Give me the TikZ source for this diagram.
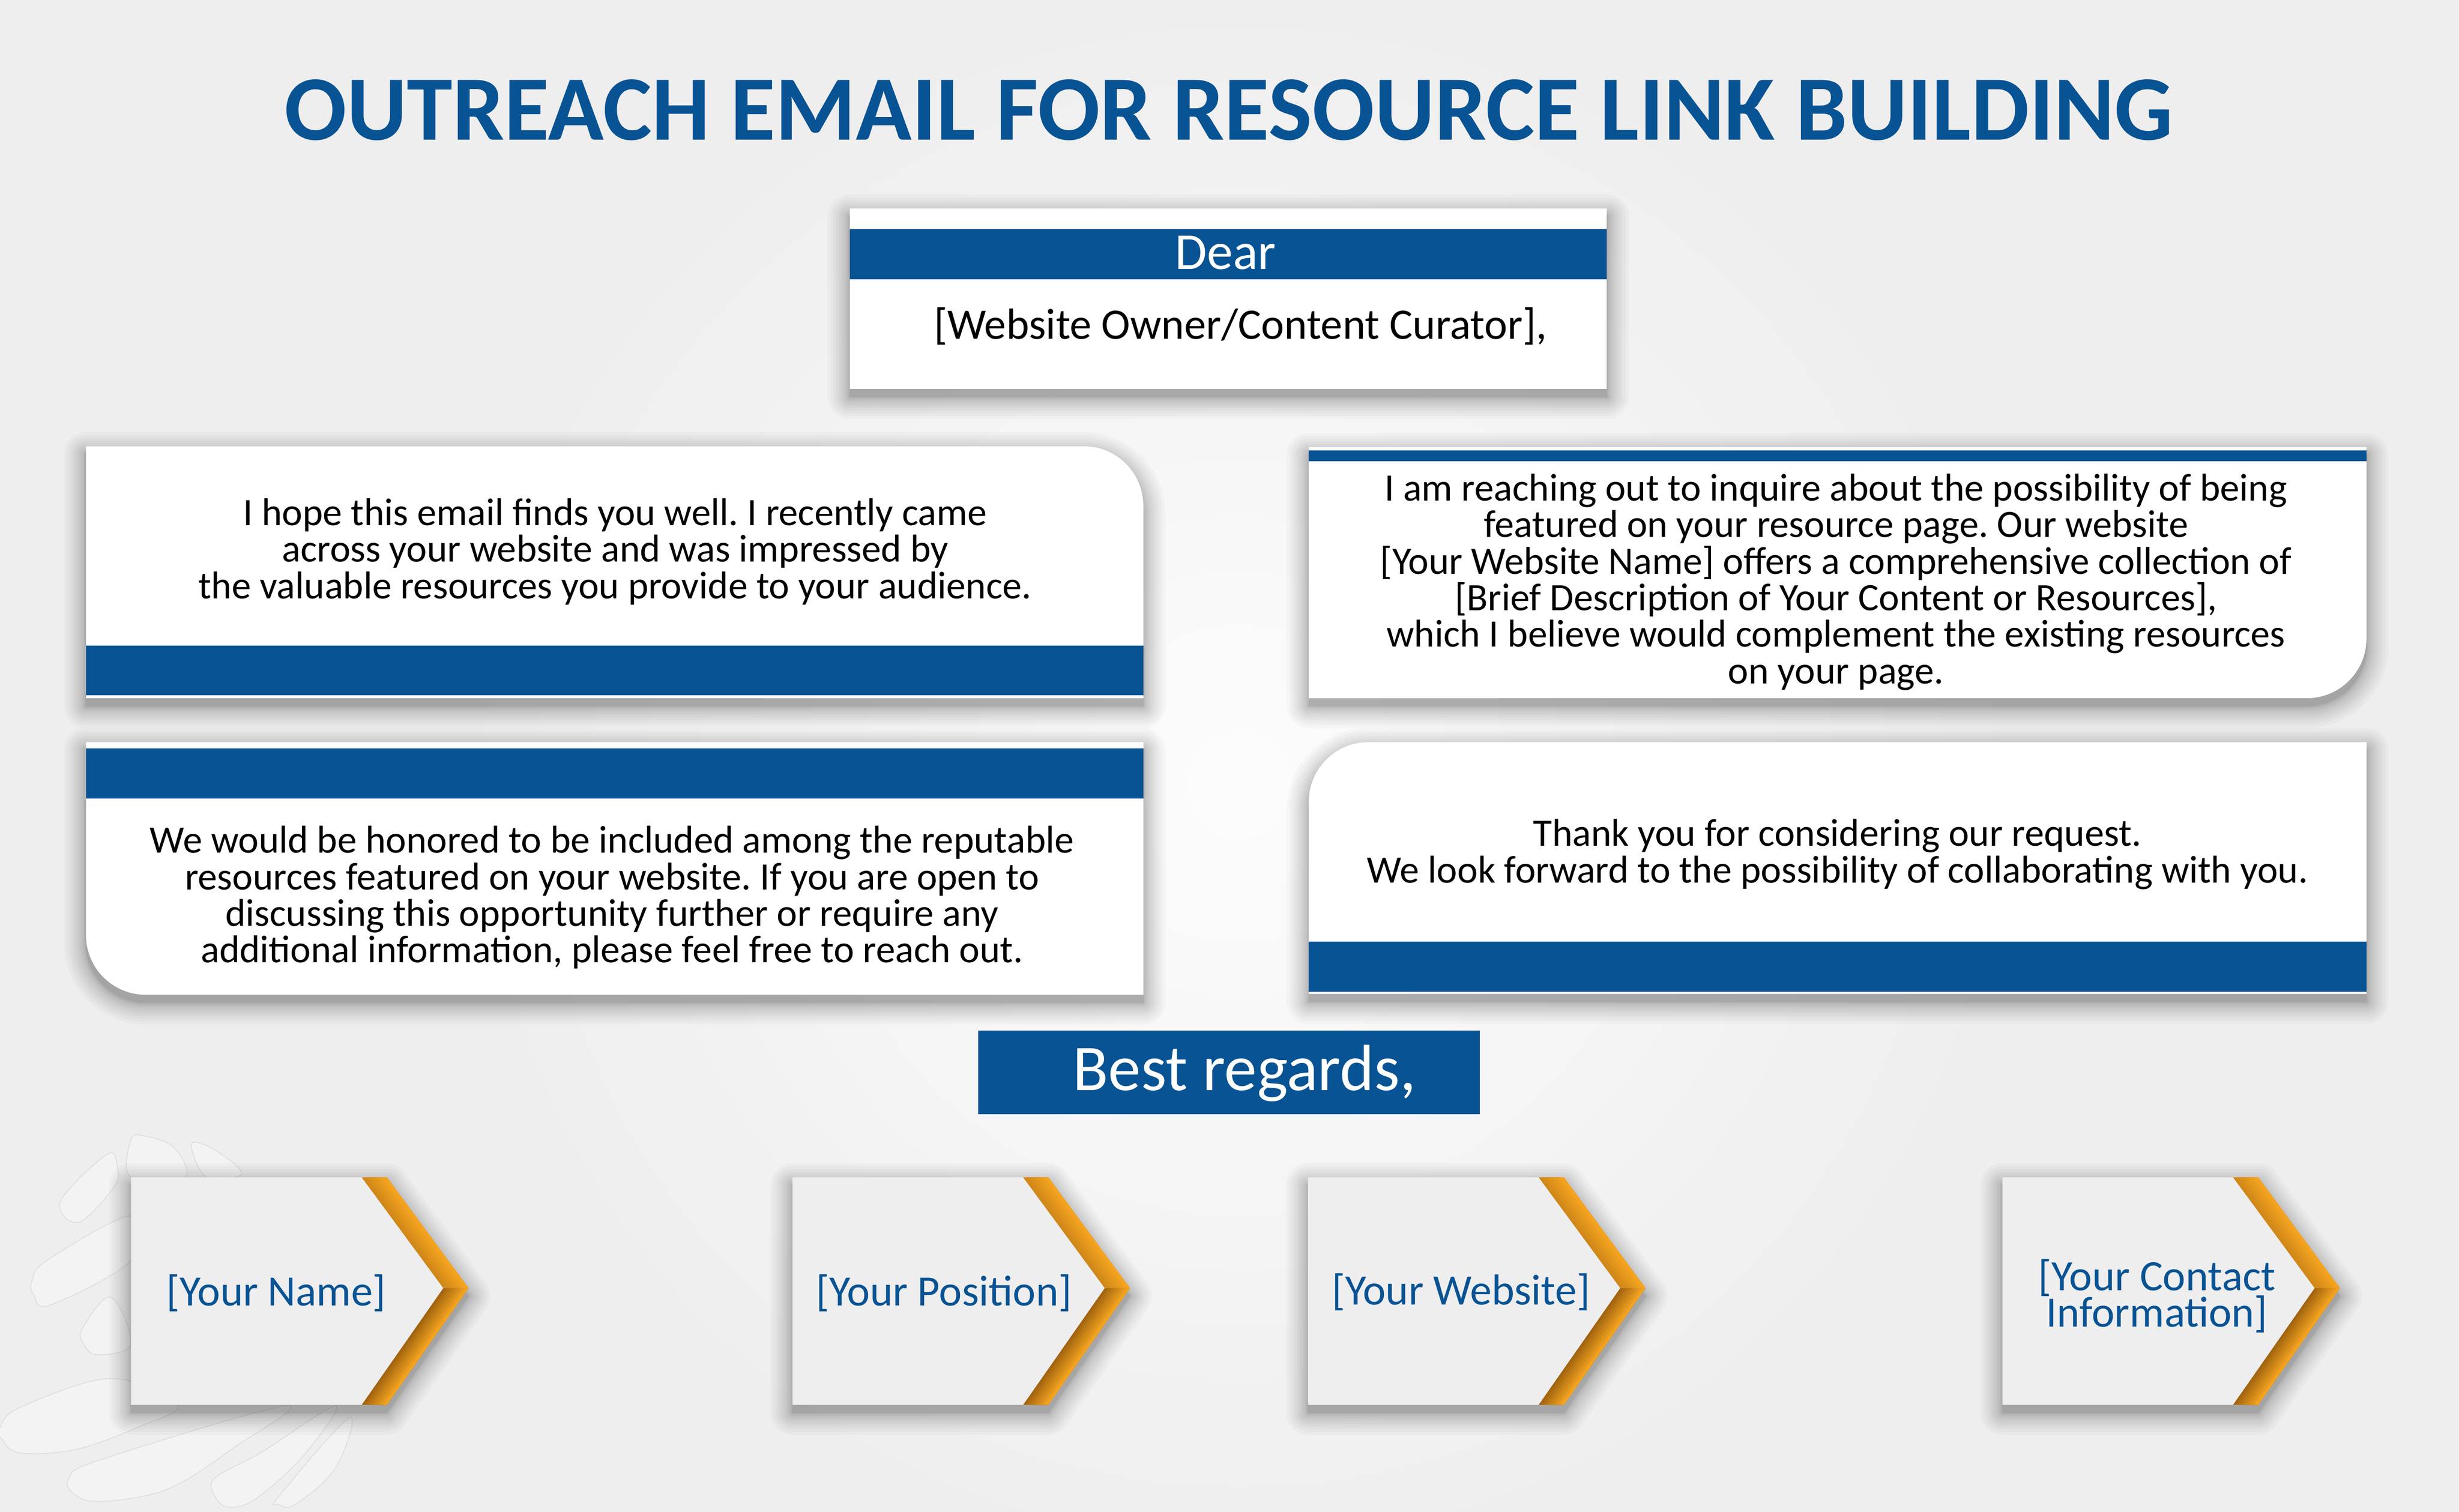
\documentclass[tikz,border=0pt]{standalone}
\usepackage{fontspec}
\setmainfont{Carlito}
\definecolor{pagegray}{HTML}{EFEEEF}
\definecolor{titleblue}{HTML}{085394}
\definecolor{arroworange}{HTML}{F5A41F}
\definecolor{arrowbrown}{HTML}{A3650F}
\definecolor{petalgray}{HTML}{F3F3F4}
\tikzset{
  bluebar/.style={fill=titleblue},
  petal/.style={fill=petalgray, draw=black!13, line width=.15pt},
  cardtext/.style={align=center, text=black, font=\fontsize{7.03}{6.63}\selectfont},
  tagtext/.style={align=center, text=titleblue, font=\fontsize{7.85}{6.63}\selectfont}
}
% Soft shadow under a path: layers that widen and fade
\newcommand{\plotShadow}[1]{
  \foreach \w in {.0014,.0057,.0129,.0229,.0357,.0514,.07,.0914,.1157,.1429,.1729,.2057,.2414,.28} {
    \begin{scope}[transparency group, opacity=.025, yshift=-.05cm]
      \path[draw=black, fill=black, line width=\w cm, line join=round] #1;
    \end{scope}
  }
}
% One arrow tag: name, left edge, text x, text y, label
\newcommand{\plotTag}[5]{
  \begin{scope}[xshift=#2cm]
    \plotShadow{(0,-7.504) -- (1.63,-7.504) -- (2.15,-8.21) -- (1.63,-8.954) -- (0,-8.954) -- cycle}
    \fill[pagegray] (0,-7.504) -- (1.63,-7.504) -- (2.15,-8.21) -- (1.63,-8.954) -- (0,-8.954) -- cycle;
    % the two arms of the chevron, inner edge to outer edge
    \foreach \k in {0,...,7} {
      \pgfmathsetmacro{\mixtop}{int(55+\k*6.5)}
      \pgfmathsetmacro{\mixlow}{int(\k*14)}
      \pgfmathsetmacro{\off}{\k*.02}
      \fill[arroworange!\mixtop!arrowbrown] (1.47+\off,-7.504) -- (1.63,-7.504) -- (2.15,-8.21) -- (1.99+\off,-8.21) -- cycle;
      \fill[arroworange!\mixlow!arrowbrown] (1.99+\off,-8.21) -- (2.15,-8.21) -- (1.63,-8.954) -- (1.47+\off,-8.954) -- cycle;
    }
    \node[tagtext] (#1) at (#3,#4) {#5};
  \end{scope}
}
\begin{document}
\frenchspacing
\lineskiplimit=-5pt
\begin{tikzpicture}
  \useasboundingbox (0,0) rectangle (15.67,-9.636);
  % Draw the background
  \fill[pagegray] (0,0) rectangle (15.67,-9.636);
  \begin{scope}
    \clip (0,0) rectangle (15.67,-9.636);
    \shade[inner color=white!85!pagegray, outer color=pagegray] (7.9,-5) circle [radius=5];
  \end{scope}

  % Draw the petals behind the first tag
  \foreach \petalpts in {
    {(.385,-7.657) (.685,-7.356) (.749,-7.448) (.727,-7.565) (.503,-7.79)},
    {(.203,-8.167) (.3,-8.033) (.83,-7.75) (.835,-8.033) (.32,-8.317) (.214,-8.25)},
    {(.524,-8.468) (.706,-8.267) (.835,-8.568) (.62,-8.635) (.535,-8.568)},
    {(0,-9.1) (.128,-8.97) (.706,-8.786) (1.13,-8.953) (.9,-9.087) (.49,-9.237) (.128,-9.26) (.01,-9.17)},
    {(.44,-9.42) (.64,-9.304) (1.82,-8.96) (1.5,-9.22) (1.07,-9.49) (.64,-9.57) (.47,-9.52)},
    {(1.37,-9.42) (1.67,-9.254) (2.14,-8.96) (1.925,-9.287) (1.626,-9.555) (1.455,-9.605) (1.37,-9.538)},
    {(1.776,-9.538) (2.225,-9.036) (2.14,-9.354) (1.883,-9.588) (1.776,-9.588)},
    {(.834,-7.264) (.92,-7.24) (1.11,-7.314) (1.177,-7.504) (.834,-7.504)},
    {(1.22,-7.29) (1.37,-7.33) (1.54,-7.48) (1.316,-7.504)}} {
    \path[petal] plot[smooth cycle, tension=.6] coordinates {\petalpts};
  }

  % Title
  \node[text=titleblue, font=\fontsize{16.7}{18}\selectfont\bfseries] (title) at (7.83,-.7) {OUTREACH EMAIL FOR RESOURCE LINK BUILDING};

  % Draw the greeting box
  \plotShadow{(5.415,-1.33) rectangle (10.24,-2.48)}
  \path[fill=white] (5.415,-1.33) rectangle (10.24,-2.48);
  \path[bluebar] (5.415,-1.46) rectangle (10.24,-1.78);
  \node[text=white, font=\fontsize{9.4}{10}\selectfont] (dear) at (7.81,-1.61) {Dear};
  \node[cardtext, font=\fontsize{7.9}{10}\selectfont] (owner) at (7.905,-2.08) {[Website Owner/Content Curator],};

  % Draw the four cards, each with one round corner
  \foreach \cardpath in {
    {(.548,-2.844) -- (6.906,-2.844) arc[start angle=90, end angle=0, radius=.38] -- (7.286,-4.45) -- (.548,-4.45) -- cycle},
    {(8.34,-2.85) -- (15.08,-2.85) -- (15.08,-4.07) arc[start angle=0, end angle=-90, radius=.38] -- (8.34,-4.45) -- cycle},
    {(.548,-4.73) -- (7.286,-4.73) -- (7.286,-6.34) -- (.928,-6.34) arc[start angle=270, end angle=180, radius=.38] -- cycle},
    {(8.72,-4.73) -- (15.08,-4.73) -- (15.08,-6.335) -- (8.34,-6.335) -- (8.34,-5.11) arc[start angle=180, end angle=90, radius=.38] -- cycle}} {
    \plotShadow{\cardpath}
  }
  \foreach \cardpath in {
    {(.548,-2.844) -- (6.906,-2.844) arc[start angle=90, end angle=0, radius=.38] -- (7.286,-4.45) -- (.548,-4.45) -- cycle},
    {(8.34,-2.85) -- (15.08,-2.85) -- (15.08,-4.07) arc[start angle=0, end angle=-90, radius=.38] -- (8.34,-4.45) -- cycle},
    {(.548,-4.73) -- (7.286,-4.73) -- (7.286,-6.34) -- (.928,-6.34) arc[start angle=270, end angle=180, radius=.38] -- cycle},
    {(8.72,-4.73) -- (15.08,-4.73) -- (15.08,-6.335) -- (8.34,-6.335) -- (8.34,-5.11) arc[start angle=180, end angle=90, radius=.38] -- cycle}} {
    \path[fill=white] \cardpath;
  }
  \foreach \xa/\ya/\xb/\yb in {.548/-4.115/7.286/-4.43, 8.34/-2.87/15.08/-2.94, .548/-4.77/7.286/-5.09, 8.34/-6/15.08/-6.32} {
    \path[bluebar] (\xa,\ya) rectangle (\xb,\yb);
  }
  \node[cardtext] (hope) at (3.92,-3.515) {I hope this email finds you well. I recently came\\ across your website and was impressed by\\ the valuable resources you provide to your audience.};
  \node[cardtext] (inquire) at (11.7,-3.71) {I am reaching out to inquire about the possibility of being\\ featured on your resource page. Our website\\ {[Your Website Name]} offers a comprehensive collection of\\ {[Brief Description of Your Content or Resources]},\\ which I believe would complement the existing resources\\ on your page.};
  \node[cardtext] (honored) at (3.9,-5.72) {We would be honored to be included among the reputable\\ resources featured on your website. If you are open to\\ discussing this opportunity further or require any\\ additional information, please feel free to reach out.};
  \node[cardtext] (thanks) at (11.71,-5.445) {Thank you for considering our request.\\ We look forward to the possibility of collaborating with you.};

  % Sign off
  \path[bluebar] (6.235,-6.57) rectangle (9.43,-7.1);
  \node[text=white, font=\fontsize{11.85}{14}\selectfont] (regards) at (7.93,-6.84) {Best regards,};

  % Draw the tags
  \foreach \tagname/\tagx/\textx/\texty/\taglabel in {name/.835/.925/-8.24/{[Your Name]}, position/5.05/.965/-8.24/{[Your Position]}, website/8.335/.975/-8.235/{[Your Website]}, contact/12.76/.985/-8.26/{{[Your Contact}\\ Information]}} {
    \plotTag{\tagname}{\tagx}{\textx}{\texty}{\taglabel}
  }
\end{tikzpicture}
\end{document}
